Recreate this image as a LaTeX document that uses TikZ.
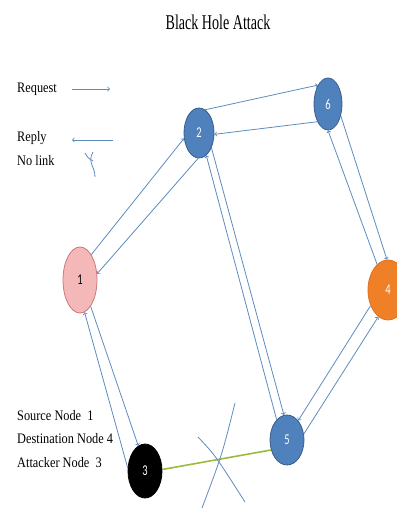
\documentclass[tikz,border=0pt]{standalone}
\usepackage{fontspec}
\setmainfont{Liberation Serif}
\newfontfamily\carlito{Carlito}
\usepackage{tikz}
\usetikzlibrary{positioning, arrows, shapes.geometric, calc}
\definecolor{linkblue}{RGB}{95,140,190}
\definecolor{hostblue}{RGB}{79,129,189}
\definecolor{hostedge}{RGB}{56,93,138}
\definecolor{srcpink}{RGB}{244,184,184}
\definecolor{srcedge}{RGB}{205,120,120}
\definecolor{dstorange}{RGB}{240,128,40}
\definecolor{dstedge}{RGB}{225,112,30}
\definecolor{linkgreen}{RGB}{155,187,60}
\newcommand{\squeezetext}[2][0.85]{\scalebox{#1}[1]{#2}}
\tikzstyle{arrow} = [->,>=to, draw=linkblue, line width=0.8pt]
\tikzstyle{cross} = [draw=linkblue, line width=0.8pt]
\tikzstyle{nolink} = [draw=linkgreen, line width=1.6pt]
\tikzstyle{host} = [ellipse, draw=hostedge, fill=hostblue, line width=0.8pt, inner sep=0pt, text=white, font=\carlito\fontsize{15}{15}\selectfont]
\tikzstyle{source} = [host, draw=srcedge, fill=srcpink, text=black]
\tikzstyle{dest} = [host, draw=dstedge, fill=dstorange]
\tikzstyle{attacker} = [host, draw=black, fill=black]
\tikzstyle{legend} = [anchor=base west, inner sep=0pt, font=\fontsize{14.5}{16}\selectfont]

\begin{document}
\begin{tikzpicture}[x=1pt, y=-1pt]
        \useasboundingbox (0,0) rectangle (396,510);
        \fill [white] (0,0) rectangle (396,510);

        \node (title) at (218,22) {\fontsize{21}{24}\selectfont\squeezetext[0.67]{Black Hole Attack}};

        % legend
        \node (reqtext) [legend] at (17,93) {\squeezetext{Request}};
        \node (reptext) [legend] at (17,142) {\squeezetext{Reply}};
        \node (nltext) [legend] at (17,166) {\squeezetext{No link}};
        \coordinate (reqtail) at (72,89);
        \coordinate (reqhead) at (110,89);
        \coordinate (reptail) at (113,140);
        \coordinate (rephead) at (72,140);
        \draw [arrow] (reqtail) -- (reqhead);
        \draw [arrow] (reptail) -- (rephead);
        \draw [cross] (85,153) .. controls (88,158) .. (93,161);
        \draw [cross] (93,152) .. controls (87,163) and (95,166) .. (95,177);

        \node (srctext) [legend] at (17,420) {\squeezetext{Source Node\ \ 1}};
        \node (dsttext) [legend] at (17,443) {\squeezetext{Destination Node 4}};
        \node (atktext) [legend] at (17,467) {\squeezetext{Attacker Node\ \ 3}};

        % nodes
        \node (n1) [source, minimum width=34pt, minimum height=66pt] at (80,280) {\squeezetext[0.7]{1}};
        \node (n2) [host, minimum width=30pt, minimum height=50pt] at (199,133) {\squeezetext[0.7]{2}};
        \node (n6) [host, minimum width=28pt, minimum height=52pt] at (328,104) {\squeezetext[0.7]{6}};
        \node (n4) [dest, minimum width=40pt, minimum height=60pt] at (388,290) {\squeezetext[0.7]{4}};
        \node (n5) [host, minimum width=34pt, minimum height=50pt] at (287,440) {\squeezetext[0.7]{5}};
        \node (n3) [attacker, minimum width=34pt, minimum height=54pt] at (145,471) {\squeezetext[0.7]{3}};

        % links
        \draw [arrow] (n1.66) -- (n2.200);
        \draw [arrow] (n2.268) -- (n1.20);
        \draw [arrow] (n2.75) -- (n6.118);
        \draw [arrow] (n6.239) -- (n2.355);
        \draw [arrow] (n6.317) -- (n4.92);
        \draw [arrow] (n4.113) -- (n6.270);
        \draw [arrow] (n4.222) -- (n5.60);
        \draw [arrow] (n5.20) -- (n4.250);
        \draw [arrow] (n2.310) -- (n5.97);
        \draw [arrow] (n5.117) -- (n2.288);
        \draw [arrow] (n1.292) -- (n3.105);
        \draw [arrow] (n3.170) -- (n1.278);
        \draw [nolink] (n3.5) -- (n5.212);

        % broken link
        \draw [cross] (198,437) .. controls (215,455) .. (245,502);
        \draw [cross] (235,403) .. controls (222,455) .. (202,508);
\end{tikzpicture}
\end{document}
